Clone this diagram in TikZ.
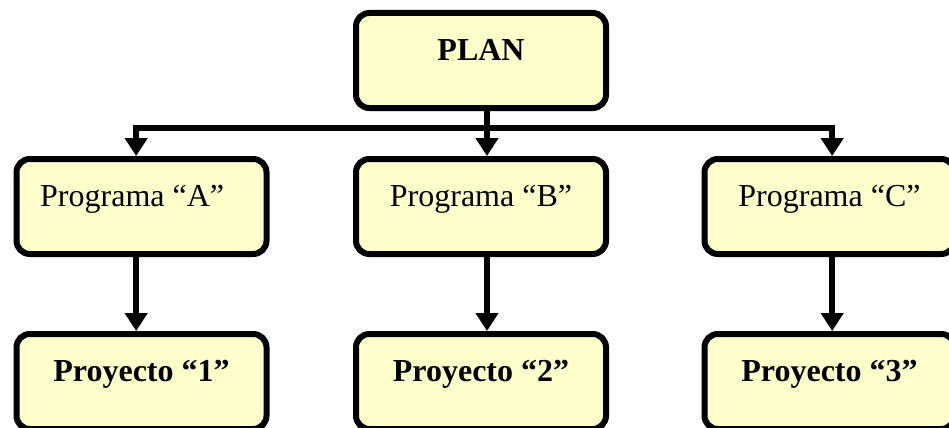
\documentclass[tikz,border=0pt]{standalone}
\usepackage{fontspec}
\setmainfont{Liberation Serif}
\usetikzlibrary{arrows.meta}
\definecolor{boxfill}{RGB}{255,255,204}
\tikzset{plan box/.style={draw,line width=4.5pt,rounded corners=10pt,fill=boxfill,
    minimum width=187.5pt,minimum height=71.25pt,inner sep=0pt,
    text height=18pt,text depth=18pt,font=\fontsize{24}{28}\selectfont}}

\begin{document}
\begin{tikzpicture}[x=0.75pt,y=-0.75pt,
    link/.style={line width=4.5pt},
    link arrow/.style={line width=4.5pt,-{Triangle[length=13.5pt,width=16.5pt]}}]
      \useasboundingbox (0,0) rectangle (949,428);
      \clip (0,0) rectangle (949,428);

      \node[plan box,font=\fontsize{24}{28}\selectfont\bfseries] (plan) at (481,60.5) {PLAN};

      \node[plan box] (progA) at (141.5,206.5) {Programa “A”\hspace*{14pt}};
      \node[plan box] (progB) at (481,206.5) {Programa “B”};
      \node[plan box] (progC) at (829.5,206.5) {Programa “C”};

      \node[plan box,font=\fontsize{24}{28}\selectfont\bfseries] (proyA) at (141.5,381.5) {Proyecto “1”};
      \node[plan box,font=\fontsize{24}{28}\selectfont\bfseries] (proyB) at (481,381.5) {Proyecto “2”};
      \node[plan box,font=\fontsize{24}{28}\selectfont\bfseries] (proyC) at (829.5,381.5) {Proyecto “3”};

      \coordinate (bus) at (487,128);

      \draw[link] ([xshift=4.5pt]plan.south) -- (bus);
      \draw[link arrow] (bus) -| ([xshift=-4pt]progA.north);
      \draw[link arrow] (bus) -- ([xshift=4.5pt]progB.north);
      \draw[link arrow] (bus) -| ([xshift=2pt]progC.north);

      \draw[link arrow] ([xshift=-4pt]progA.south) -- ([xshift=-4pt]proyA.north);
      \draw[link arrow] ([xshift=4.5pt]progB.south) -- ([xshift=4.5pt]proyB.north);
      \draw[link arrow] ([xshift=2pt]progC.south) -- ([xshift=2pt]proyC.north);
    \end{tikzpicture}
\end{document}
